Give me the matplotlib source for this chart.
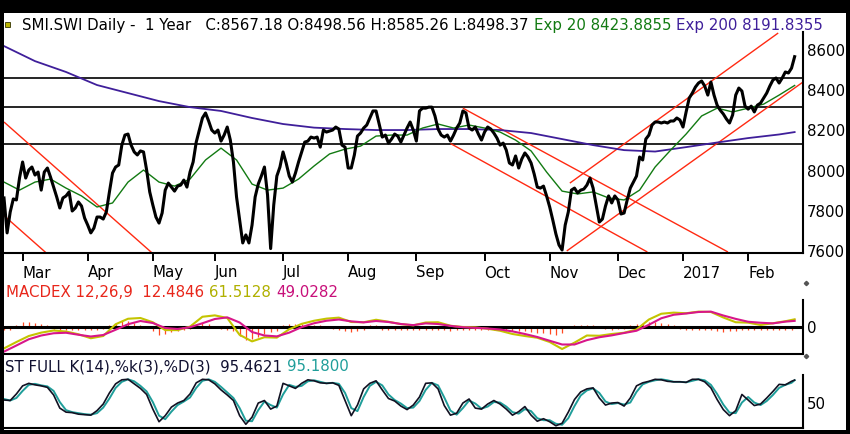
import numpy as np
import pandas as pd
import matplotlib
matplotlib.use('Agg')
import matplotlib.pyplot as plt
from matplotlib.patches import Rectangle
from matplotlib.lines import Line2D

# --- trading calendar (SIX, Feb 2016 - Feb 2017) ---
holidays = ['2016-03-25', '2016-03-28', '2016-05-05', '2016-05-16',
            '2016-08-01', '2016-12-26', '2017-01-02']
days = pd.bdate_range('2016-02-22', '2017-02-22')
days = days[~days.isin(pd.to_datetime(holidays))]

month_labels = ['Mar', 'Apr', 'May', 'Jun', 'Jul', 'Aug', 'Sep', 'Oct',
                'Nov', 'Dec', '2017', 'Feb']

# --- price panel data ---
close = [
    7864, 7690, 7794, 7859, 7854, 7963, 8043, 7963, 8003, 8018,
    7978, 7993, 7903, 7993, 8013, 7968, 7918, 7869, 7814, 7864,
    7874, 7894, 7799, 7814, 7844, 7824, 7764, 7729, 7690, 7714,
    7769, 7769, 7759, 7794, 7894, 7988, 8018, 8028, 8127, 8177,
    8182, 8127, 8093, 8078, 8098, 8093, 8003, 7894, 7829, 7769,
    7739, 7789, 7903, 7938, 7918, 7898, 7923, 7928, 7953, 7918,
    7993, 8043, 8142, 8202, 8262, 8287, 8247, 8202, 8187, 8202,
    8147, 8177, 8217, 8152, 8043, 7869, 7754, 7640, 7680, 7640,
    7729, 7869, 7933, 7973, 8018, 7879, 7612, 7829, 7973, 8018,
    8093, 8038, 7973, 7943, 7988, 8043, 8093, 8142, 8147, 8167,
    8162, 8167, 8117, 8202, 8192, 8197, 8202, 8217, 8207, 8127,
    8117, 8013, 8013, 8078, 8172, 8187, 8212, 8227, 8262, 8297,
    8297, 8232, 8167, 8177, 8137, 8157, 8182, 8172, 8142, 8177,
    8212, 8242, 8202, 8147, 8297, 8311, 8311, 8316, 8316, 8272,
    8207, 8177, 8167, 8177, 8147, 8177, 8212, 8237, 8297, 8287,
    8212, 8202, 8217, 8182, 8152, 8192, 8217, 8207, 8187, 8162,
    8127, 8137, 8102, 8038, 8028, 8073, 8013, 8058, 8088, 8068,
    8038, 7983, 7918, 7913, 7923, 7874, 7819, 7754, 7685, 7630,
    7605, 7729, 7794, 7903, 7913, 7889, 7903, 7908, 7928, 7963,
    7913, 7829, 7744, 7759, 7824, 7874, 7839, 7874, 7854, 7784,
    7789, 7854, 7913, 7943, 7973, 8068, 8053, 8157, 8177, 8227,
    8242, 8242, 8237, 8242, 8237, 8247, 8247, 8262, 8252, 8217,
    8292, 8361, 8386, 8416, 8436, 8446, 8421, 8376, 8441, 8376,
    8326, 8301, 8282, 8257, 8237, 8277, 8376, 8411, 8396, 8321,
    8306, 8321, 8292, 8326, 8336, 8361, 8386, 8421, 8451, 8461,
    8436, 8461, 8491, 8486, 8510, 8567.18,
]

ema20_day = list(range(0, 256, 5))
ema20 = [
    7943, 7903, 7943, 7958, 7913, 7874, 7819, 7839, 7943, 8003,
    7943, 7923, 7958, 8053, 8112, 8053, 7933, 7903, 7913, 7958,
    8023, 8083, 8107, 8122, 8172, 8177, 8177, 8212, 8232, 8212,
    8227, 8212, 8192, 8152, 8098, 7993, 7898, 7884, 7894, 7864,
    7854, 7903, 8018, 8102, 8182, 8272, 8311, 8292, 8311, 8331,
    8376, 8423.89,
]

ema200_day = list(range(0, 251, 10)) + [255]
ema200 = [
    8620, 8545, 8491, 8426, 8386, 8346, 8316, 8297, 8262, 8232,
    8214, 8207, 8202, 8202, 8207, 8207, 8202, 8187, 8157, 8127,
    8102, 8095, 8117, 8140, 8162, 8180, 8191.84,
]

levels = [8461, 8316, 8132]

# trend lines: (start day, start price, end day, end price)
trend_lines = [
    (0, 8242, 48, 7587),
    (0, 7776, 13.5, 7592),
    (148, 8311, 233.5, 7595),
    (144, 8135, 207.5, 7595),
    (182.5, 7938, 249.7, 8685),
    (181.5, 7600, 257.7, 8441),
]

# --- MACD panel ---
macd_day = list(range(0, 253, 4)) + [255]
macd = [
    -171, -120, -72, -45, -28, -36, -58, -90, -72, 22,
    66, 72, 38, -25, -25, 3, 82, 93, 72, -63,
    -115, -82, -85, -18, 25, 50, 67, 75, 40, 38,
    58, 42, 23, 13, 36, 38, 10, 0, -3, -14,
    -30, -56, -72, -86, -120, -176, -125, -68, -70, -56,
    -46, -20, 60, 106, 115, 110, 123, 120, 76, 38,
    35, 16, 30, 46, 61.51,
]
signal = [
    -197, -148, -98, -68, -50, -46, -62, -76, -64, -22,
    22, 48, 32, -8, -16, -2, 30, 64, 77, 36,
    -40, -68, -75, -45, -1, 30, 50, 60, 45, 37,
    48, 40, 24, 15, 29, 24, 9, -2, -7, -12,
    -20, -35, -56, -80, -110, -140, -140, -105, -82, -67,
    -48, -30, 18, 70, 98, 108, 120, 123, 92, 65,
    42, 34, 29, 43, 49.03,
]
hist_day = list(range(0, 256, 2))
hist = [
    -20, -20, 15, 40, 40, 35, 25, 20, -15, -20,
    -20, -20, -25, -25, -25, -20, -15, 15, 30, 45,
    50, 35, 15, -10, -35, -60, -55, -40, -30, -25,
    -15, 20, 30, 25, 10, -15, -20, -35, -70, -100,
    -95, -80, -55, -40, -30, 20, 25, 25, 25, 20,
    15, 15, 10, -15, -20, -30, -40, -35, -20, 15,
    15, -20, -25, -25, -25, -25, -20, -20, -25, -25,
    -20, -25, -30, -25, -20, -20, -20, -25, -25, -25,
    -25, -30, -30, -35, -35, -40, -45, -50, -55, -60,
    -50, 10, 15, 20, 20, 20, 10, -15, -20, -15,
    -15, 15, 25, 35, 40, 40, 35, 25, 15, -15,
    -20, -20, -20, -20, -25, -35, -40, -35, -30, -25,
    -25, -20, -20, -20, -20, -20, -20, -20,
]

# --- full stochastic panel ---
stoch_day = list(range(0, 256, 2)) + [255]
stoch_k = [
    56, 55, 68, 84, 89, 86, 84, 81, 66, 40,
    32, 31, 28, 27, 26, 35, 48, 70, 88, 96,
    97, 88, 79, 67, 38, 13, 25, 42, 50, 55,
    68, 90, 97, 96, 88, 76, 66, 55, 25, 8,
    22, 50, 55, 38, 44, 89, 84, 79, 89, 96,
    94, 90, 89, 90, 85, 55, 25, 46, 78, 89,
    94, 76, 59, 54, 44, 37, 46, 62, 89, 90,
    78, 45, 26, 30, 50, 58, 40, 38, 48, 55,
    48, 38, 26, 33, 43, 26, 14, 19, 13, 5,
    10, 32, 57, 72, 78, 80, 60, 46, 50, 51,
    44, 60, 84, 90, 93, 97, 96, 93, 92, 92,
    91, 97, 97, 92, 80, 57, 37, 25, 35, 67,
    56, 45, 48, 60, 73, 87, 86, 93, 95.46,
]
stoch_d = [
    58, 55, 60, 74, 86, 88, 85, 83, 74, 52,
    36, 32, 30, 28, 27, 30, 41, 59, 80, 92,
    97, 93, 84, 73, 52, 25, 18, 33, 46, 53,
    61, 80, 94, 97, 92, 82, 71, 60, 40, 15,
    14, 36, 53, 46, 41, 67, 86, 82, 84, 93,
    95, 92, 89, 90, 88, 70, 40, 34, 62, 84,
    92, 85, 67, 56, 49, 40, 41, 54, 76, 90,
    85, 61, 35, 27, 40, 55, 49, 39, 43, 52,
    51, 43, 32, 29, 38, 34, 20, 16, 16, 9,
    7, 20, 44, 65, 75, 79, 70, 53, 48, 50,
    47, 51, 72, 87, 92, 95, 97, 95, 92, 92,
    91, 94, 97, 95, 86, 68, 47, 31, 30, 51,
    62, 51, 46, 54, 66, 80, 86, 90, 95.18,
]

# ------------------------------------------------------------------
W, H = 850, 434
fig = plt.figure(figsize=(W / 100, H / 100), dpi=100, facecolor='black')
fig.patches.append(Rectangle((4 / W, 4 / H), 842 / W, 417 / H,
                             transform=fig.transFigure, facecolor='white',
                             edgecolor='none', zorder=-10))

fnt = 10.8
xmax = 257.7
c_green = '#127a12'
c_purple = '#3f1f9a'
c_red = '#ff2a12'
c_yel = '#c4c400'
c_mag = '#d8168a'
c_teal = '#1f9e9a'


def px_axes(x0, y0, x1, y1):
    ax = fig.add_axes([x0 / W, 1 - y1 / H, (x1 - x0) / W, (y1 - y0) / H])
    ax.set_facecolor('white')
    for s in ['left', 'top']:
        ax.spines[s].set_visible(False)
    for s in ['right', 'bottom']:
        ax.spines[s].set_linewidth(1.5)
        ax.spines[s].set_color('black')
    ax.set_xlim(0, xmax)
    ax.yaxis.tick_right()
    ax.tick_params(axis='y', length=0, pad=3, labelsize=fnt)
    return ax


def chain(x, y, parts):
    r = fig.canvas.get_renderer()
    xp = x
    for s, c in parts:
        t = fig.text(xp / W, 1 - y / H, s, color=c, fontsize=fnt,
                     va='baseline', ha='left')
        bb = t.get_window_extent(r)
        xp = bb.x1 + 5


# price panel
ax1 = px_axes(4, 32, 803, 253)
ax1.set_ylim(7590, 8690)
for lv in levels:
    ax1.axhline(lv, color='black', lw=1.2, zorder=1)
for d0, p0, d1, p1 in trend_lines:
    ax1.plot([d0, d1], [p0, p1], color=c_red, lw=1.0, zorder=2,
             solid_capstyle='butt')
ax1.plot(ema200_day, ema200, color=c_purple, lw=1.3, zorder=3)
ax1.plot(ema20_day, ema20, color=c_green, lw=1.0, zorder=3)
ax1.plot(range(len(close)), close, color='black', lw=2.2, zorder=4,
         solid_joinstyle='round')
ax1.set_yticks([7600, 7800, 8000, 8200, 8400, 8600])

month_pos = (pd.Series(np.arange(len(days)), index=days)
             .groupby(days.to_period('M')).first().values[1:])
ax1.set_xticks(month_pos)
ax1.set_xticklabels(month_labels, ha='left')
ax1.tick_params(axis='x', direction='out', length=6, width=1.4,
                pad=3, labelsize=fnt)

# MACD panel
ax2 = px_axes(4, 300, 803, 354)
ax2.set_ylim(-216, 216)
ax2.vlines(hist_day, 0, hist, color='#ff4a22', lw=0.9, zorder=1)
ax2.axhline(0, color='black', lw=2.2, zorder=2)
ax2.plot(macd_day, macd, color=c_yel, lw=1.5, zorder=3)
ax2.plot(macd_day, signal, color=c_mag, lw=1.5, zorder=4)
ax2.set_xticks([])
ax2.set_yticks([0])

# stochastic panel
ax3 = px_axes(4, 375, 803, 428.3)
ax3.set_ylim(0, 105.5)
ax3.plot(stoch_day, stoch_d, color=c_teal, lw=1.4, zorder=3)
ax3.plot(stoch_day, stoch_k, color='#111122', lw=1.2, zorder=4)
ax3.set_xticks([])
ax3.set_yticks([50])

# headers
fig.patches.append(Rectangle((5 / W, 1 - 27 / H), 5 / W, 5 / H,
                             transform=fig.transFigure, facecolor='#b8b400',
                             edgecolor='#333300', lw=0.6))
chain(22, 30, [('SMI.SWI Daily -  1 Year   C:8567.18 O:8498.56 '
                'H:8585.26 L:8498.37', 'black'),
               ('Exp 20 8423.8855', c_green),
               ('Exp 200 8191.8355', c_purple)])
chain(6, 297, [('MACDEX 12,26,9  12.4846', '#e8261a'),
               ('61.5128', '#b0b000'),
               ('49.0282', '#c8107a')])
chain(5, 371, [('ST FULL K(14),%k(3),%D(3)  95.4621', '#101030'),
               ('95.1800', c_teal)])

for yy in [283, 356]:
    fig.add_artist(Line2D([806 / W], [1 - yy / H], marker='D', ms=2.2,
                          color='#555555', transform=fig.transFigure))

fig.savefig('out.png', dpi=100, facecolor='black')
